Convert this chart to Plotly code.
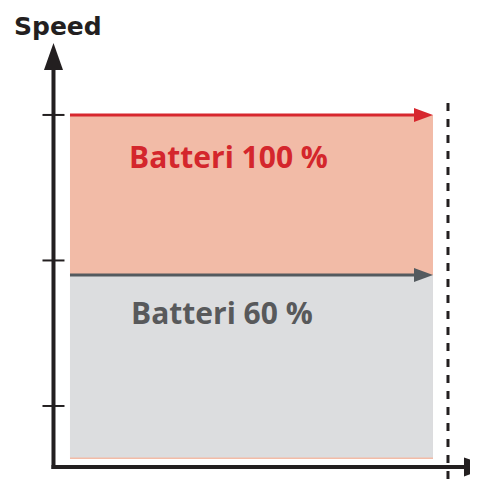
import plotly.graph_objects as go

# ---- data ----
battery_labels = ["Batteri 100 %", "Batteri 60 %"]
battery_speed = [3.0, 1.9]
speed_ticks = [1, 2, 3]
time_span = [0, 10]
speed_base = 0.636
axis_title = "Speed"

# ---- geometry helpers ----
W, H = 478, 486
PAGE_PAD = 8  # default body margin of the html page
_sx = W / (11.24 + 1.928)
_sy = H / (3.79 - 0.45)
X_RANGE = [-1.928 + PAGE_PAD / _sx, 11.24 + PAGE_PAD / _sx]
Y_RANGE = [0.45 - PAGE_PAD / _sy, 3.79 - PAGE_PAD / _sy]
sx = W / (X_RANGE[1] - X_RANGE[0])
sy = H / (Y_RANGE[1] - Y_RANGE[0])


def dx(p):
    return p / sx


def dy(p):
    return p / sy


AXIS_X = time_span[0] - dx(16.5)
AXIS_Y = speed_base - dy(8)
Y_TIP = max(battery_speed) + dy(72)
X_TIP = time_span[1] + dx(58)
END_X = time_span[1] + dx(15)

AXIS_COL = "#231f20"
RED_LINE = "#d7272e"
RED_FILL = "#f2bba7"
GRAY_FILL = "#dcdddf"
GRAY_LINE = "#545a5f"
RED_TEXT = "#d4262c"
GRAY_TEXT = "#58595b"


def tri_right(xt, y, L, Wd):
    return (f"M {xt},{y} L {xt - dx(L)},{y + dy(Wd / 2)} "
            f"L {xt - dx(L)},{y - dy(Wd / 2)} Z")


def tri_up(x, yt, L, Wd):
    return (f"M {x},{yt} L {x - dx(Wd / 2)},{yt - dy(L)} "
            f"L {x + dx(Wd / 2)},{yt - dy(L)} Z")


fig = go.Figure()
mid = (time_span[0] + time_span[1]) / 2
wid = time_span[1] - time_span[0]
fills = [RED_FILL, GRAY_FILL]
bases = [speed_base, speed_base + dy(1.5)]
for sp, col, b in zip(battery_speed, fills, bases):
    fig.add_trace(go.Bar(x=[mid], y=[sp - b], base=b, width=wid,
                         marker=dict(color=col, line=dict(width=0)),
                         hoverinfo="skip"))

shapes = []
# battery arrows
line_cols = [RED_LINE, GRAY_LINE]
for sp, col in zip(battery_speed, line_cols):
    shapes.append(dict(type="line", xref="x", yref="y", x0=time_span[0], x1=time_span[1] - dx(15),
                       y0=sp, y1=sp, line=dict(color=col, width=3)))
    shapes.append(dict(type="path", xref="x", yref="y",
                       path=tri_right(time_span[1], sp, 19, 14),
                       fillcolor=col, line=dict(width=0)))

# y axis
shapes.append(dict(type="line", xref="x", yref="y", x0=AXIS_X, x1=AXIS_X,
                   y0=AXIS_Y - dy(2), y1=Y_TIP - dy(24),
                   line=dict(color=AXIS_COL, width=4)))
shapes.append(dict(type="path", xref="x", yref="y",
                   path=tri_up(AXIS_X, Y_TIP, 27, 19),
                   fillcolor=AXIS_COL, line=dict(width=0)))
# x axis
shapes.append(dict(type="line", xref="x", yref="y", x0=AXIS_X - dx(2), x1=X_TIP - dx(24),
                   y0=AXIS_Y, y1=AXIS_Y,
                   line=dict(color=AXIS_COL, width=4)))
shapes.append(dict(type="path", xref="x", yref="y",
                   path=tri_right(X_TIP, AXIS_Y, 27, 19),
                   fillcolor=AXIS_COL, line=dict(width=0)))
# ticks
for t in speed_ticks:
    shapes.append(dict(type="line", xref="x", yref="y", x0=AXIS_X - dx(11), x1=AXIS_X + dx(11),
                       y0=t, y1=t, line=dict(color=AXIS_COL, width=2)))
# dashed end line
shapes.append(dict(type="line", xref="x", yref="y", x0=END_X, x1=END_X,
                   y0=max(battery_speed) + dy(12), y1=Y_RANGE[0],
                   line=dict(color=AXIS_COL, width=3, dash="8px,8px")))

annotations = [
    dict(text=axis_title, x=AXIS_X - dx(41), y=Y_TIP + dy(16), xref="x", yref="y",
         xanchor="left", yanchor="middle", showarrow=False,
         font=dict(family="DejaVu Sans", size=25, color=AXIS_COL, weight="bold")),
]
label_cols = [RED_TEXT, GRAY_TEXT]
label_offsets = [dy(42), dy(37)]
label_dx = [dx(57), dx(59)]
for lab, sp, col, off, ox in zip(battery_labels, battery_speed, label_cols, label_offsets, label_dx):
    annotations.append(dict(text=lab, x=time_span[0] + ox, y=sp - off,
                            xref="x", yref="y", xanchor="left", yanchor="middle",
                            showarrow=False,
                            font=dict(family="Open Sans", size=30, color=col, weight="bold")))

fig.update_layout(
    width=W, height=H, margin=dict(l=0, r=0, t=0, b=0),
    barmode="overlay", showlegend=False,
    plot_bgcolor="white", paper_bgcolor="white",
    xaxis=dict(range=X_RANGE, visible=False, fixedrange=True),
    yaxis=dict(range=Y_RANGE, visible=False, fixedrange=True),
    shapes=shapes, annotations=annotations,
)
fig.write_html("out.html")
